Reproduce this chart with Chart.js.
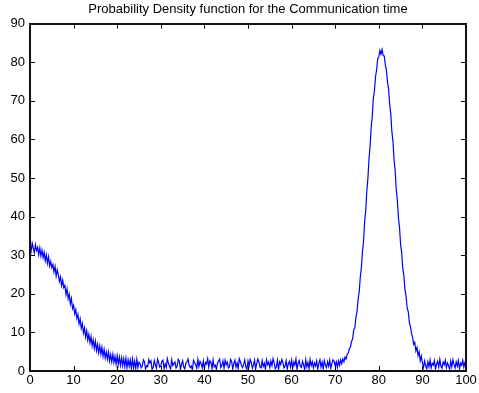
<!DOCTYPE html>
<html>
<head>
<meta charset="utf-8">
<script src="https://cdn.jsdelivr.net/npm/chart.js@4.4.1/dist/chart.umd.min.js"></script>
<style>
  html, body { margin: 0; padding: 0; background: #fff; }
  canvas { display: block; }
</style>
</head>
<body>
<canvas id="pdfChart" width="479" height="393"></canvas>
<script>
// largura de cada bin do histograma (tempo)
const binWidth = 0.25;

// 0 a 24.75 - queda inicial
const decay = [
  32.9, 31.0, 33.1, 31.8,  30.6, 32.7, 31.2, 32.0,  30.1, 31.9, 29.8, 31.3,
  29.4, 30.8, 28.6, 30.1,  27.9, 29.6, 27.2, 28.4,  26.8, 27.6, 25.7, 27.1,
  24.6, 26.2, 24.9, 23.2,  24.4, 22.1, 23.5, 21.6,  22.2, 19.8, 21.3, 18.7,
  19.9, 17.4, 18.8, 16.2,  17.0, 14.8, 15.9, 13.6,  14.6, 12.2, 13.5, 11.1,
  12.3, 9.9, 11.2, 8.8,    10.4, 8.0, 9.5, 7.3,     8.9, 6.5, 8.1, 5.9,
  7.7, 5.3, 6.9, 4.7,      6.5, 4.4, 6.2, 3.8,      5.6, 3.4, 4.9, 3.1,
  4.9, 2.6, 4.3, 2.4,      4.3, 2.2, 3.8, 1.8,      3.9, 1.7, 3.6, 1.5,
  3.4, 1.4, 3.2, 1.1,      3.3, 0.9, 2.9, 1.2,      2.9, 0.7, 3.1, 0.8,
  2.6, 0.6, 3.0, 0.9
];

// 25 a 69.75 - patamar com ruido
const floorNoise = [
  2.3, 1.9, 0.8, 1.2, 2.9, 2.4, 0.5, 1.4, 1.1, 3.0, 2.1, 2.6, 0.4, 0.9, 2.7, 1.6, 0.7, 3.1, 2.2, 1.0,
  1.3, 2.5, 2.8, 0.6, 1.8, 0.9, 3.2, 2.0, 1.2, 0.5, 2.9, 1.4, 1.9, 2.3, 0.8, 1.2, 3.0, 2.6, 0.4, 1.7,
  2.7, 1.1, 0.6, 2.0, 2.4, 3.1, 1.5, 0.9, 1.3, 0.3, 2.8, 2.2, 1.6, 0.7, 3.0, 1.2, 2.5, 1.9, 0.8, 2.6,
  0.5, 2.2, 1.8, 3.2, 1.0, 2.7, 2.3, 0.6, 2.9, 1.1, 1.5, 0.4, 2.0, 2.6, 3.1, 0.9, 1.4, 2.6, 0.7, 2.8,
  1.6, 2.3, 0.8, 1.1, 3.0, 2.5, 0.5, 1.9, 2.8, 1.0, 2.1, 0.6, 3.2, 2.4, 1.4, 0.9, 1.7, 2.9, 1.1, 0.4,
  2.6, 1.3, 3.0, 2.2, 0.7, 1.5, 2.8, 0.5, 1.9, 3.1, 2.4, 1.0, 0.8, 2.7, 1.2, 2.0, 0.4, 2.9, 1.6, 2.3,
  0.9, 2.6, 1.4, 3.2, 2.1, 0.6, 1.1, 2.8, 0.3, 2.4, 1.7, 3.0, 2.2, 0.8, 1.3, 2.7, 0.5, 1.9, 2.5, 1.0,
  2.8, 0.7, 2.3, 1.5, 3.1, 0.4, 2.0, 2.7, 1.2, 0.9, 2.5, 1.6, 0.3, 2.9, 1.1, 2.2, 0.6, 3.0, 1.4, 2.4,
  0.8, 2.1, 1.3, 2.6, 0.5, 1.9, 2.9, 1.0, 2.3, 0.6, 2.7, 1.5, 0.9, 2.4, 1.2, 2.8, 0.7, 2.0, 2.9, 2.5
];

// 70 a 89.75 - pico em torno de 80
const peak = [
  1.3, 2.4, 0.9, 2.6,     1.5, 2.9, 1.9, 3.1,     2.4, 3.6, 3.1, 4.4,
  4.6, 5.8, 6.3, 7.6,     8.4, 10.6, 11.2, 13.9,  15.3, 18.6, 20.4, 24.3,
  26.7, 30.9, 33.6, 38.7, 41.5, 46.6, 49.9, 55.0, 58.1, 63.2, 65.9, 70.6,
  72.6, 76.3, 78.0, 80.9, 81.4, 83.0, 82.1, 83.3, 81.7, 81.6, 79.3, 77.9,
  74.8, 73.1, 68.9, 66.6, 62.0, 59.5, 54.7, 51.8, 47.1, 44.3, 39.7, 37.2,
  32.8, 30.6, 26.5, 24.7, 21.0, 19.5, 16.4, 15.4, 12.6, 11.6, 9.8, 8.7,
  6.9, 7.4, 5.2, 6.1,     4.0, 5.0, 2.6, 3.9
];

// 90 a 100 - cauda final
const tail = [
  2.2, 0.9, 2.6, 1.3, 0.6, 2.4, 1.1, 2.9, 0.8, 2.0, 1.5, 2.7, 0.5, 1.8,
  2.5, 1.0, 3.0, 1.2, 0.7, 2.3, 1.6, 2.8, 0.9, 2.1, 1.4, 0.4, 2.6, 1.1,
  2.9, 1.7, 0.8, 2.4, 1.3, 2.7, 0.6, 2.0, 1.5, 2.8, 1.0, 2.2, 1.6
];

const xTicks = [0, 10, 20, 30, 40, 50, 60, 70, 80, 90, 100];
const yTicks = [0, 10, 20, 30, 40, 50, 60, 70, 80, 90];

const density = [...decay, ...floorNoise, ...peak, ...tail];
const points = density.map((y, i) => ({ x: i * binWidth, y: y }));

const fonte = { family: "'Liberation Sans', Arial, sans-serif", size: 13 };

// caixa estilo matlab com ticks para dentro nos 4 lados
const pluginCaixa = {
  id: 'boxTicks',
  afterDraw(chart) {
    const { ctx, chartArea: { top, bottom, left, right } } = chart;
    const sx = chart.scales.x, sy = chart.scales.y;
    const len = 5;
    ctx.save();
    ctx.strokeStyle = '#000';
    ctx.lineWidth = 1;
    ctx.beginPath();
    xTicks.forEach(v => {
      const px = Math.round(sx.getPixelForValue(v)) + 0.5;
      ctx.moveTo(px, bottom); ctx.lineTo(px, bottom - len);
      ctx.moveTo(px, top); ctx.lineTo(px, top + len);
    });
    yTicks.forEach(v => {
      const py = Math.round(sy.getPixelForValue(v)) + 0.5;
      ctx.moveTo(left, py); ctx.lineTo(left + len, py);
      ctx.moveTo(right, py); ctx.lineTo(right - len, py);
    });
    ctx.stroke();
    // moldura um pouco mais grossa
    ctx.lineWidth = 2;
    ctx.strokeStyle = '#111';
    ctx.strokeRect(Math.round(left), Math.round(top), Math.round(right - left), Math.round(bottom - top));
    ctx.restore();
  }
};

new Chart(document.getElementById('pdfChart'), {
  type: 'line',
  data: {
    datasets: [{
      label: 'PDF',
      data: points,
      borderColor: '#0000ff',
      borderWidth: 1.2,
      pointRadius: 0,
      tension: 0,
      fill: false
    }]
  },
  options: {
    responsive: false,
    animation: false,
    layout: { padding: { top: 0, right: 13, left: 0, bottom: 0 } },
    plugins: {
      legend: { display: false },
      tooltip: { enabled: false },
      title: {
        display: true,
        fullSize: false,
        text: 'Probability Density function for the Communication time',
        color: '#000',
        font: { family: fonte.family, size: 13, weight: 'normal' },
        padding: { top: 2, bottom: 6 }
      }
    },
    scales: {
      x: {
        type: 'linear',
        min: 0, max: 100,
        afterBuildTicks: s => { s.ticks = xTicks.map(v => ({ value: v })); },
        afterFit: s => { s.height = 22; },
        ticks: { color: '#000', font: fonte, padding: 2, maxRotation: 0 },
        grid: { drawOnChartArea: false, drawTicks: false },
        border: { display: false }
      },
      y: {
        min: 0, max: 90,
        afterBuildTicks: s => { s.ticks = yTicks.map(v => ({ value: v })); },
        afterFit: s => { s.width = 30; },
        ticks: { color: '#000', font: fonte, padding: 5 },
        grid: { drawOnChartArea: false, drawTicks: false },
        border: { display: false }
      }
    }
  },
  plugins: [pluginCaixa]
});
</script>
</body>
</html>
